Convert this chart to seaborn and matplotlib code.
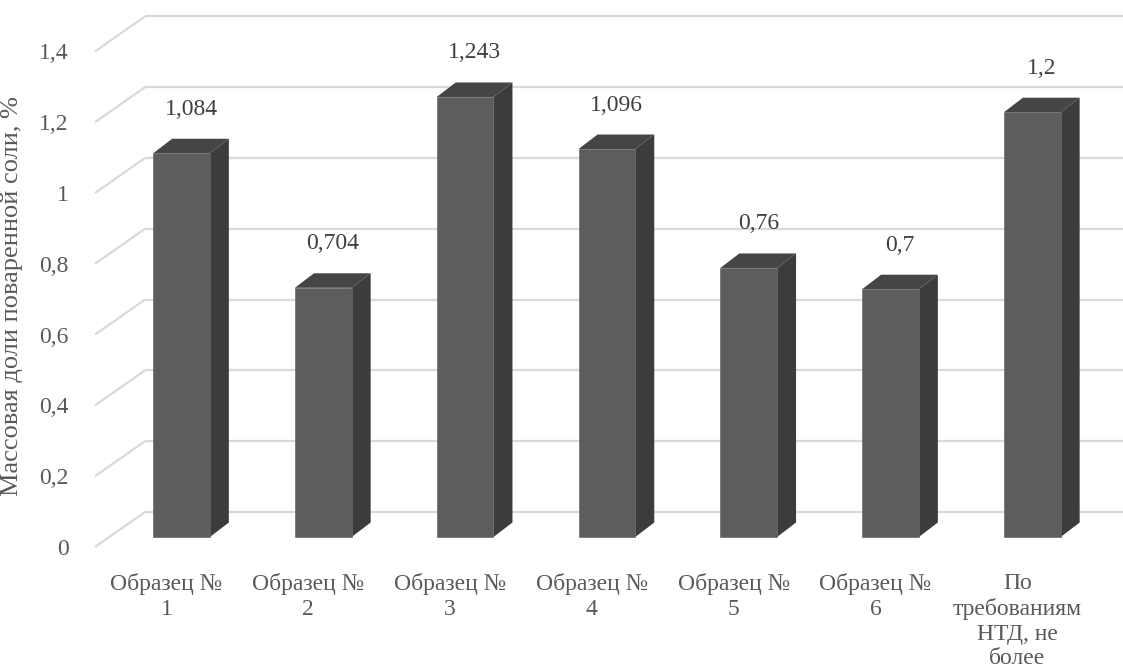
import numpy as np
import pandas as pd
import matplotlib
matplotlib.use("Agg")
import matplotlib.pyplot as plt
from matplotlib.patches import Polygon
from matplotlib import font_manager as fm
import seaborn as sns

# ---- data ----
categories = ["Образец №\n1", "Образец №\n2", "Образец №\n3", "Образец №\n4",
              "Образец №\n5", "Образец №\n6", "По\nтребованиям\nНТД, не\nболее"]
values = [1.084, 0.704, 1.243, 1.096, 0.76, 0.7, 1.2]
value_labels = ["1,084", "0,704", "1,243", "1,096", "0,76", "0,7", "1,2"]
y_ticks = [0, 0.2, 0.4, 0.6, 0.8, 1.0, 1.2, 1.4]
y_tick_labels = ["0", "0,2", "0,4", "0,6", "0,8", "1", "1,2", "1,4"]
y_title = "Массовая доли поваренной соли, %"

# ---- style ----
sns.set_theme(style="white")
serif_path = fm.findfont("Liberation Serif")
serif_name = fm.FontProperties(fname=serif_path).get_name()
plt.rcParams["font.family"] = [serif_name, "DejaVu Serif"]
plt.rcParams["font.serif"] = [serif_name, "DejaVu Serif"]
FS = 17
FP = fm.FontProperties(fname=serif_path, size=FS)
FP_Y = fm.FontProperties(fname=serif_path, size=19)
TXT = "#595959"
FRONT = "#5d5d5d"
SIDE = "#3c3c3c"
TOP = "#454545"
GRID = "#d9d9d9"

W, H = 1123, 670
fig = plt.figure(figsize=(W / 100, H / 100), dpi=100)
ax = fig.add_axes([95 / W, 1 - 547 / H, 1 - 95 / W, (547 - 15) / H])

PX_Y = 354.0   # pixels per value unit
PX_X = 141.8   # pixels per category
XLIM = ((95 - 181.5) / PX_X, (1123 - 181.5) / PX_X)
YLIM = (-10 / PX_Y, (537 - 15) / PX_Y)
ax.set_xlim(*XLIM)
ax.set_ylim(*YLIM)

front_shift = -10 / PX_Y
back_shift = 25 / PX_Y
wall_dx = (145 - 95) / PX_X
x_front_left = XLIM[0]
x_back_left = x_front_left + wall_dx
bar_dx = 19 / PX_X
bar_dy = 14.5 / PX_Y

for v in y_ticks:
    ax.plot([x_front_left, x_back_left], [v + front_shift, v + back_shift],
            color=GRID, lw=1.6, zorder=0, solid_capstyle="butt", clip_on=False)
    ax.plot([x_back_left, XLIM[1]], [v + back_shift, v + back_shift],
            color=GRID, lw=1.6, zorder=0, solid_capstyle="butt", clip_on=False)

df = pd.DataFrame({"cat": categories, "val": values})
sns.barplot(data=df, x="cat", y="val", color=FRONT, saturation=1, width=0.4,
            ax=ax, zorder=3, edgecolor="#6a6a6a", linewidth=0.5)

for p, lab in zip(ax.patches, value_labels):
    x0 = p.get_x()
    x1 = x0 + p.get_width()
    y0 = p.get_y()
    y1 = y0 + p.get_height()
    side = Polygon([(x1, y0), (x1 + bar_dx, y0 + bar_dy), (x1 + bar_dx, y1 + bar_dy), (x1, y1)],
                   closed=True, facecolor=SIDE, edgecolor="none", zorder=2.9)
    top = Polygon([(x0, y1), (x0 + bar_dx, y1 + bar_dy), (x1 + bar_dx, y1 + bar_dy), (x1, y1)],
                  closed=True, facecolor=TOP, edgecolor="none", zorder=2.9)
    ax.add_patch(side)
    ax.add_patch(top)
    ax.text((x0 + x1 + bar_dx) / 2, y1 + 44 / PX_Y, lab, ha="center", va="center",
            fontproperties=FP, color="#404040", zorder=5)

ax.set_yticks([v + front_shift for v in y_ticks])
ax.set_yticklabels(y_tick_labels, fontproperties=FP)
ax.set_xticks(np.arange(len(categories)) - 15 / PX_X)
ax.set_xticklabels(categories, linespacing=1.22, fontproperties=FP)
ax.tick_params(axis="y", length=0, pad=19, labelcolor=TXT)
ax.tick_params(axis="x", length=0, pad=19, labelcolor=TXT)
ax.set_xlim(*XLIM)
ax.set_ylim(*YLIM)
ax.set_xlabel("")
ax.set_ylabel(y_title, fontproperties=FP_Y, color=TXT)
ax.yaxis.set_label_coords((23 - 95) / (W - 95), (547 - 296) / (547 - 15))
for s in ax.spines.values():
    s.set_visible(False)
ax.set_facecolor("none")
ax.grid(False)

fig.savefig("out.png", dpi=100, facecolor="white")
